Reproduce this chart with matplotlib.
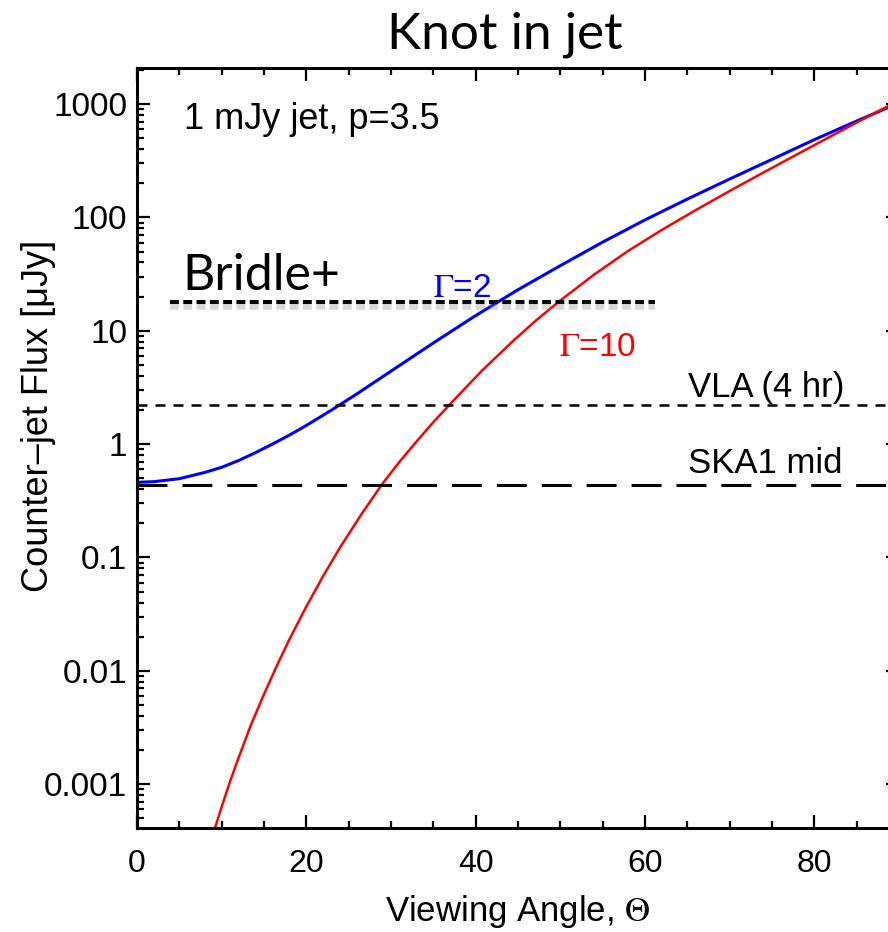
import numpy as np
import matplotlib
matplotlib.use('Agg')
import matplotlib.pyplot as plt
import matplotlib.patheffects as pe
from matplotlib.ticker import MultipleLocator, LogLocator, FixedLocator, NullFormatter

plt.rcParams['mathtext.fontset'] = 'stix'

# curve values (angle in degrees, flux in microJy)
gamma2_angle = [0, 2, 5, 8, 10, 12, 14, 16, 18, 20, 23, 26, 30, 35, 40, 45,
                50, 55, 60, 65, 70, 75, 80, 85, 90]
gamma2_flux = [0.460, 0.466, 0.495, 0.562, 0.624, 0.716, 0.841, 1.0, 1.20, 1.46,
               2.0, 2.78, 4.4, 7.8, 13.6, 23.0, 37.5, 60.5, 95, 145, 218,
               325, 485, 708, 1023]

gamma10_angle = [9.0, 9.2, 10, 11, 12, 13.5, 15, 16.5, 18, 20, 22, 24, 26.5, 29,
                 31, 33, 35, 37, 40.7, 44.4, 47, 50, 54, 58, 62, 66, 70, 74, 78,
                 82, 86, 90]
gamma10_flux = [3.6e-4, 4.07e-4, 6.3e-4, 1.06e-3, 1.71e-3, 3.39e-3, 6.2e-3, 0.011,
                0.0189, 0.0369, 0.0687, 0.123, 0.240, 0.448, 0.697, 1.05, 1.56,
                2.26, 4.41, 8.1, 12.1, 18.5, 31.3, 50.6, 77.6, 116, 171, 249, 361,
                522, 752, 1076]

vla_level = 2.21
ska_level = 0.435
bridle_level = 17.9
bridle_range = [3.9, 61.2]

ytick_vals = [0.001, 0.01, 0.1, 1, 10, 100, 1000]
ytick_labels = ['0.001', '0.01', '0.1', '1', '10', '100', '1000']

fig = plt.figure(figsize=(8.88, 9.32), dpi=100)
ax = fig.add_axes([137/888, 104/932, 762/888, 760/932])

ax.plot(gamma2_angle, gamma2_flux, color='#0000ff', lw=2.2)
ax.plot(gamma10_angle, gamma10_flux, color='#ff0000', lw=1.8)

ax.axhline(vla_level, color='black', lw=1.8, dashes=(4, 3.2))
ax.axhline(ska_level, color='black', lw=2.2, dashes=(9.8, 4.9))
ax.plot(bridle_range, [bridle_level, bridle_level], color='black', lw=2.9,
        dashes=(2.2, 1.1),
        path_effects=[pe.SimpleLineShadow(offset=(0, -2.5), shadow_color='gray', alpha=0.3,
                                          linewidth=5.5),
                      pe.Normal()])

ax.set_yscale('log')
ax.set_xlim(0, 90)
ax.set_ylim(4.1e-4, 2080)

ax.xaxis.set_major_locator(MultipleLocator(20))
ax.xaxis.set_minor_locator(MultipleLocator(5))
ax.yaxis.set_major_locator(FixedLocator(ytick_vals))
ax.set_yticklabels(ytick_labels)
ax.yaxis.set_minor_locator(LogLocator(base=10, subs=np.arange(2, 10)))
ax.yaxis.set_minor_formatter(NullFormatter())

ax.tick_params(which='both', direction='in', top=True, right=True, width=1.6)
ax.tick_params(which='major', length=9.5)
ax.tick_params(which='minor', length=5)
ax.tick_params(axis='x', labelsize=23, pad=15)
ax.tick_params(axis='y', labelsize=24, pad=7)
for s in ax.spines.values():
    s.set_linewidth(2.2)

for lab in ax.get_xticklabels() + ax.get_yticklabels():
    lab.set_family('Liberation Sans')

fig.text(518/888, 1 - 921/932, 'Viewing Angle, $\\Theta$', fontsize=25,
         family='Liberation Sans', ha='center', va='baseline')
fig.text(39/888, 1 - 416/932, 'Counter\u2013jet Flux [\u03bcJy]', fontsize=26,
         family='Liberation Sans', rotation=90, ha='center', va='center')

ax.text(5.55, 601, '1 mJy jet, p=3.5', fontsize=26, family='Liberation Sans', va='baseline')
ax.text(5.4, 22.9, 'Bridle+', fontsize=36, family='Lato', va='baseline')
ax.text(34.95, 19.8, '$\\Gamma$=2', fontsize=24, color='#0000ff',
        family='Liberation Sans', va='baseline')
ax.text(49.9, 5.98, '$\\Gamma$=10', fontsize=24, color='#ff0000',
        family='Liberation Sans', va='baseline')
ax.text(65.05, 2.6, 'VLA (4 hr)', fontsize=25, family='Liberation Sans', va='baseline')
ax.text(65.05, 0.555, 'SKA1 mid', fontsize=25, family='Liberation Sans', va='baseline')

fig.text(505/888, 1 - 48/932, 'Knot in jet', fontsize=37, family='Lato',
         ha='center', va='baseline')

fig.savefig('out.png', dpi=100)
